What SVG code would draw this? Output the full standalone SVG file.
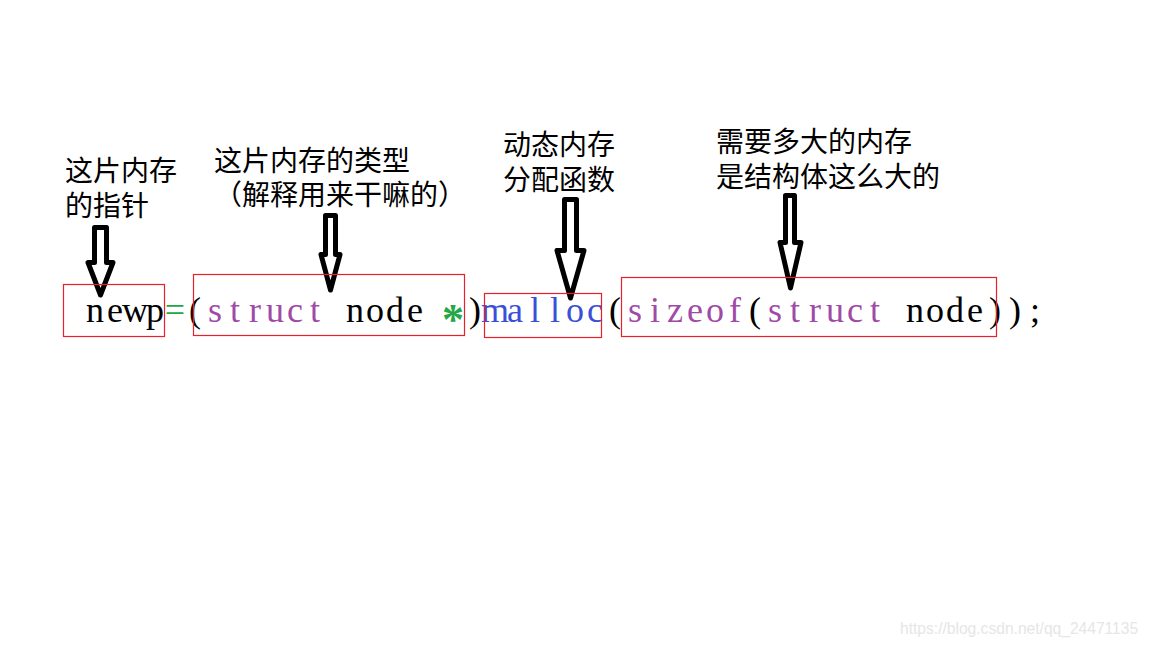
<svg xmlns="http://www.w3.org/2000/svg" width="1152" height="648" viewBox="0 0 1152 648">
<style>
.lbl{font-family:"Noto Sans CJK SC","Noto Sans",sans-serif;font-size:28px;fill:#000}
.code{font-family:"Liberation Serif","Times New Roman",serif;font-size:36px;fill:#000;text-anchor:middle}
.p{fill:#a04aa8}
.b{fill:#3a4fd8}
.g{fill:#22a845}
.box{fill:none;stroke:#e8202a;stroke-width:1.2}
.arr{fill:#fff;stroke:#000;stroke-width:5;stroke-linejoin:round}
.wm{font-family:"Liberation Sans",Arial,sans-serif;font-size:15.6px;fill:#e6e6e6}
</style>
<rect width="1152" height="648" fill="#fff"/>
<g id="connectors">
<path class="arr" d="M94.5,227.5 L106.5,227.5 L106.5,262.5 L113,262.5 L100.5,295 L88,262.5 L94.5,262.5 Z"/>
<path class="arr" d="M325.5,215.5 L335.5,215.5 L335.5,254.5 L340,254.5 L330.5,290 L321,254.5 L325.5,254.5 Z"/>
<path class="arr" d="M564.5,199.5 L576.5,199.5 L576.5,250.5 L584,250.5 L570.5,298 L557,250.5 L564.5,250.5 Z"/>
<path class="arr" d="M785.5,195.5 L794.5,195.5 L794.5,242.5 L801,242.5 L790.5,288 L780,242.5 L785.5,242.5 Z"/>
</g>
<g id="label-pointer">
<text class="lbl"><tspan x="65" y="181">这片内存</tspan><tspan x="65" y="216">的指针</tspan></text>
</g>
<g id="label-type">
<text class="lbl"><tspan x="214" y="171">这片内存的类型</tspan><tspan x="214" y="205">（解释用来干嘛的）</tspan></text>
</g>
<g id="label-malloc">
<text class="lbl"><tspan x="503" y="155">动态内存</tspan><tspan x="503" y="190">分配函数</tspan></text>
</g>
<g id="label-size">
<text class="lbl"><tspan x="716" y="152">需要多大的内存</tspan><tspan x="716" y="187">是结构体这么大的</tspan></text>
</g>
<g id="code-line">
<text class="code" y="322"><tspan x="95 115 135 155">newp</tspan><tspan class="g" x="175">=</tspan><tspan x="195">(</tspan><tspan class="p" x="215 235 255 275 295 315">struct</tspan><tspan x="355 375 395 415">node</tspan><tspan x="475">)</tspan><tspan class="b" x="495 515 535 555 575 595">malloc</tspan><tspan x="615">(</tspan><tspan class="p" x="635 655 675 695 715 735">sizeof</tspan><tspan x="755">(</tspan><tspan class="p" x="775 795 815 835 855 875">struct</tspan><tspan x="915 935 955 975">node</tspan><tspan x="995 1015 1035">));</tspan></text>
<text class="code g" x="453" y="334" style="font-size:44px;font-weight:bold">*</text>
</g>
<g id="box-newp"><rect class="box" x="63.5" y="284.5" width="101" height="52"/></g>
<g id="box-type"><rect class="box" x="193.5" y="274.5" width="271" height="61"/></g>
<g id="box-malloc"><rect class="box" x="484.5" y="293.5" width="117" height="44"/></g>
<g id="box-sizeof"><rect class="box" x="621.5" y="277.5" width="375" height="59"/></g>
<text class="wm" x="900" y="634">https://blog.csdn.net/qq_24471135</text>
</svg>
